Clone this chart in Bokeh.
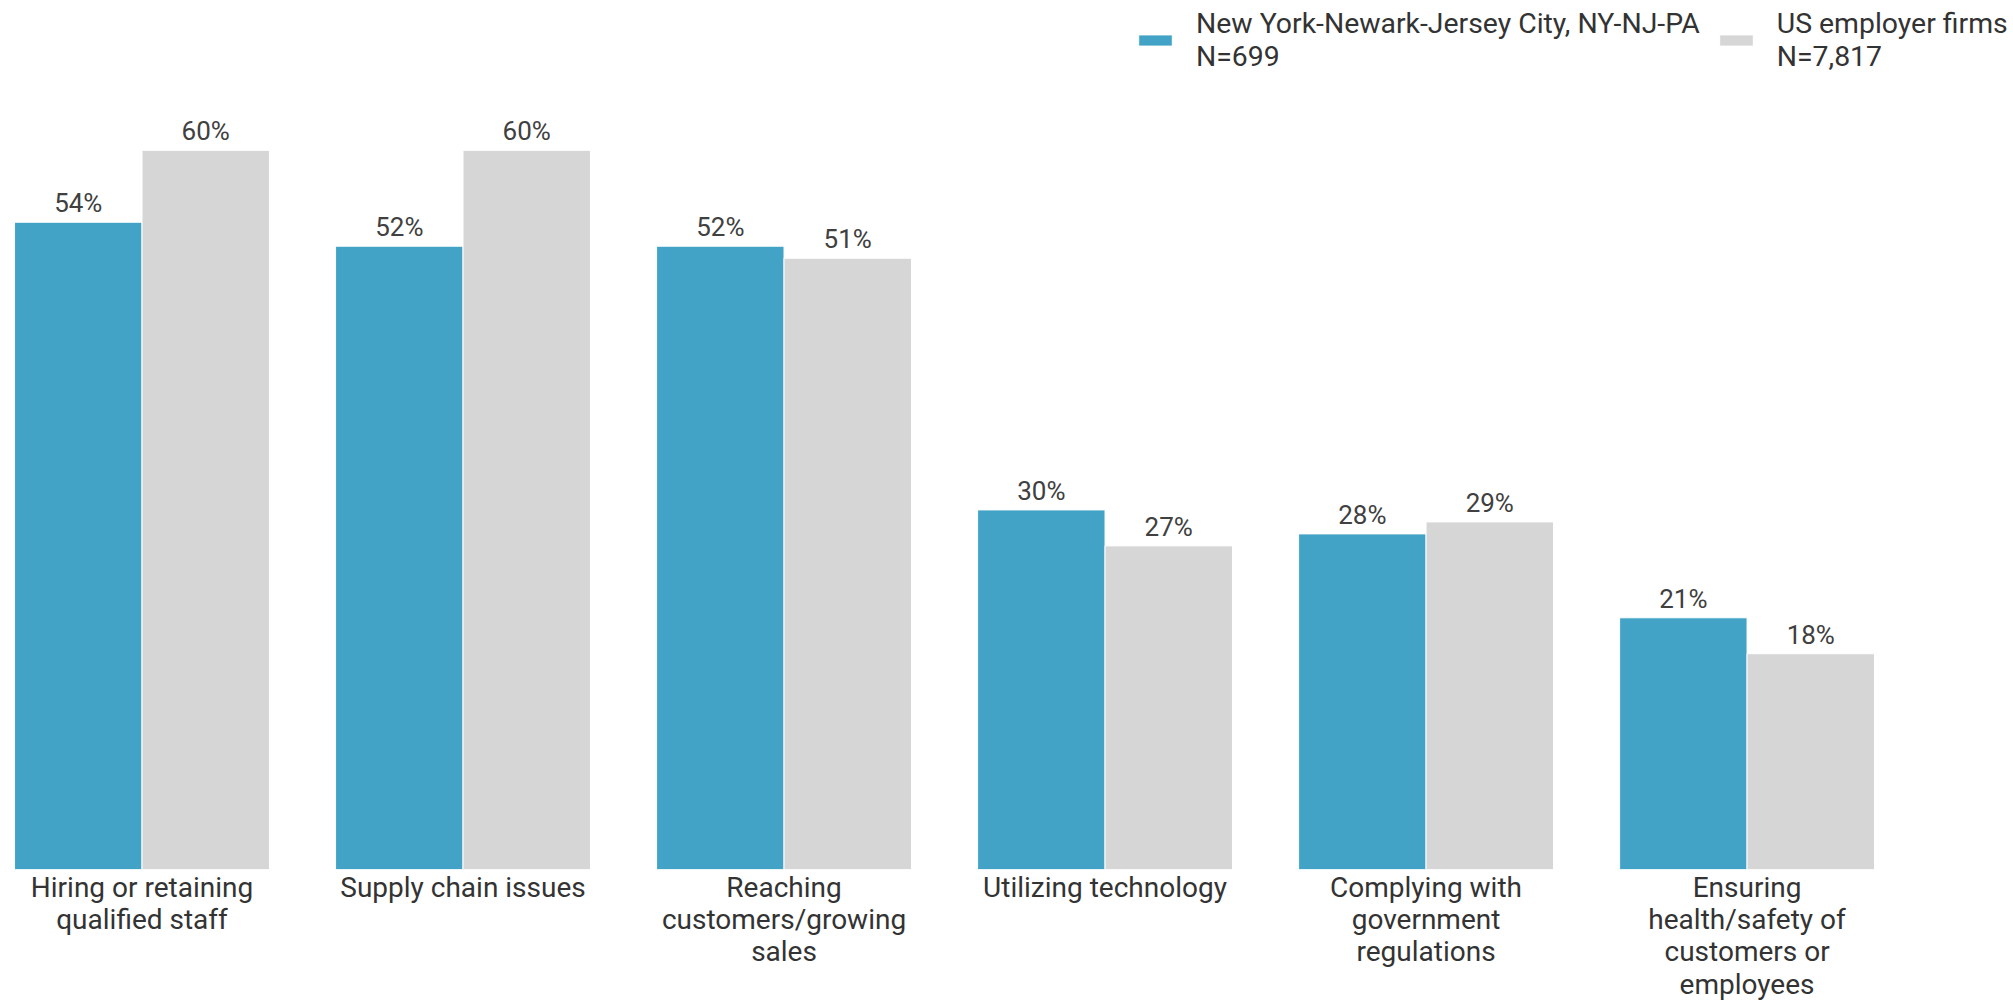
from bokeh.plotting import figure
from bokeh.models import ColumnDataSource, LabelSet, Legend, LegendItem, FixedTicker, Range1d
from bokeh.transform import dodge
from bokeh.core.properties import value
from bokeh.embed import file_html
from bokeh.resources import INLINE

categories = [
    "Hiring or retaining\nqualified staff",
    "Supply chain issues",
    "Reaching\ncustomers/growing\nsales",
    "Utilizing technology",
    "Complying with\ngovernment\nregulations",
    "Ensuring\nhealth/safety of\ncustomers or\nemployees",
]
ny_values = [54, 52, 52, 30, 28, 21]
us_values = [60, 60, 51, 27, 29, 18]
series_names = [
    "New York-Newark-Jersey City, NY-NJ-PA\nN=699",
    "US employer firms\nN=7,817",
]

BLUE = "#42A3C6"
GRAY = "#D6D6D6"
FONT = "Roboto"

idx = list(range(len(categories)))
src = ColumnDataSource(dict(
    x=idx,
    ny=ny_values,
    us=us_values,
    ny_lbl=[f"{v}%" for v in ny_values],
    us_lbl=[f"{v}%" for v in us_values],
))

p = figure(
    width=2013, height=1003,
    x_range=Range1d(-0.4408, 5.830),
    y_range=Range1d(0, 72.5),
    output_backend="svg", toolbar_location=None,
    y_axis_location=None,
    min_border_left=0, min_border_right=0, min_border_top=0, min_border_bottom=0,
    outline_line_color=None,
)
p.xgrid.visible = False
p.ygrid.visible = False

bw = 0.397
off = 0.1985
r1 = p.vbar(x=dodge("x", -off), top="ny", width=bw, source=src,
            fill_color=BLUE, line_color="white", line_width=1)
r2 = p.vbar(x=dodge("x", off), top="us", width=bw, source=src,
            fill_color=GRAY, line_color="white", line_width=1)

for field, lbl, o in (("ny", "ny_lbl", -off), ("us", "us_lbl", off)):
    ls = LabelSet(x=dodge("x", o), y=field, text=lbl, source=src,
                  y_offset=10, text_align="center", text_baseline="alphabetic",
                  text_font=value(FONT), text_font_size="26px", text_color="#404040")
    p.add_layout(ls)

ax = p.xaxis[0]
ax.ticker = FixedTicker(ticks=idx)
ax.major_label_overrides = {i: c for i, c in zip(idx, categories)}
ax.axis_line_color = None
ax.major_tick_line_color = None
ax.minor_tick_line_color = None
ax.major_tick_out = 0
ax.major_tick_in = 0
ax.minor_tick_out = 0
ax.minor_tick_in = 0
ax.major_label_text_font = FONT
ax.major_label_text_font_size = "28px"
ax.major_label_text_color = "#333333"
ax.major_label_text_line_height = 0.98
ax.major_label_standoff = 1

legend = Legend(
    items=[LegendItem(label=series_names[0], renderers=[r1]),
           LegendItem(label=series_names[1], renderers=[r2])],
    orientation="horizontal", location=(1134, 796),
    glyph_width=42, glyph_height=14, label_standoff=20, spacing=15,
    padding=7, margin=0, border_line_color=None, background_fill_alpha=0,
    label_text_font=FONT, label_text_font_size="28.4px", label_text_color="#333333",
    label_text_line_height=0.97,
)
p.add_layout(legend)

open("out.html", "w").write(file_html(p, INLINE))
